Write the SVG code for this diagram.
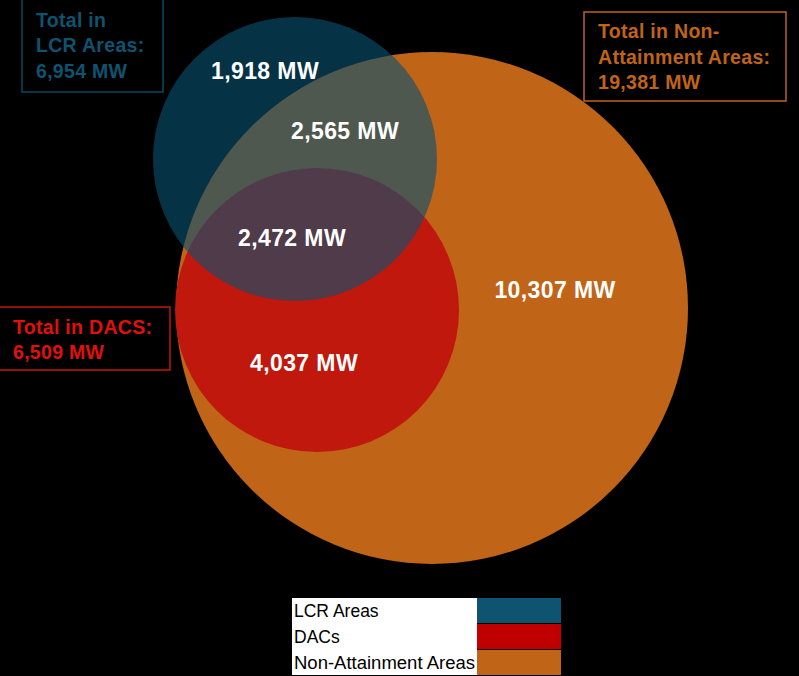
<svg xmlns="http://www.w3.org/2000/svg" width="799" height="676" viewBox="0 0 799 676">
<style>
.lbl{font-family:"Liberation Sans",Arial,sans-serif;font-weight:bold;font-size:23px;letter-spacing:0.4px;fill:#ffffff}
.tot{font-family:"Liberation Sans",Arial,sans-serif;font-weight:bold;font-size:19.5px;letter-spacing:0.3px}
.leg{font-family:"Liberation Sans",Arial,sans-serif;font-size:17.5px;fill:#000000}
</style>
<rect x="0" y="0" width="799" height="676" fill="#000000"/>
<g id="non-attainment">
<circle cx="432" cy="308" r="256" fill="#C06418"/>
</g>
<g id="dacs">
<circle cx="317" cy="310" r="142" fill="#C0180C"/>
</g>
<g id="lcr">
<circle cx="295" cy="159" r="142" fill="#0A5171" fill-opacity="0.62"/>
</g>
<g id="labels">
<text class="lbl" x="265" y="79" text-anchor="middle">1,918 MW</text>
<text class="lbl" x="345" y="139" text-anchor="middle">2,565 MW</text>
<text class="lbl" x="292" y="246" text-anchor="middle">2,472 MW</text>
<text class="lbl" x="555" y="298" text-anchor="middle">10,307 MW</text>
<text class="lbl" x="304" y="371" text-anchor="middle">4,037 MW</text>
</g>
<g id="total-lcr">
<rect x="22" y="-1" width="141" height="93" fill="none" stroke="#0C4A63" stroke-width="1.5"/>
<text class="tot" fill="#0E5370" x="36" y="27">Total in</text>
<text class="tot" fill="#0E5370" x="36" y="52">LCR Areas:</text>
<text class="tot" fill="#0E5370" x="36" y="78">6,954 MW</text>
</g>
<g id="total-nonattainment">
<rect x="584" y="12" width="202" height="89" fill="none" stroke="#C06418" stroke-width="1.5"/>
<text class="tot" fill="#C06418" x="598" y="38">Total in Non-</text>
<text class="tot" fill="#C06418" x="598" y="64">Attainment Areas:</text>
<text class="tot" fill="#C06418" x="598" y="89">19,381 MW</text>
</g>
<g id="total-dacs">
<rect x="-1" y="307" width="171" height="63" fill="none" stroke="#C0180C" stroke-width="1.5"/>
<text class="tot" fill="#E0100C" x="13" y="334">Total in DACS:</text>
<text class="tot" fill="#E0100C" x="13" y="359">6,509 MW</text>
</g>
<g id="legend">
<rect x="292" y="598" width="185" height="77" fill="#ffffff"/>
<rect x="477" y="598" width="84" height="25" fill="#0E5370"/>
<rect x="477" y="624" width="84" height="25" fill="#C00000"/>
<rect x="477" y="650" width="84" height="25" fill="#C06418"/>
<text class="leg" x="294" y="617">LCR Areas</text>
<text class="leg" x="294" y="643">DACs</text>
<text class="leg" x="294" y="669" textLength="181" lengthAdjust="spacingAndGlyphs">Non-Attainment Areas</text>
</g>
</svg>
